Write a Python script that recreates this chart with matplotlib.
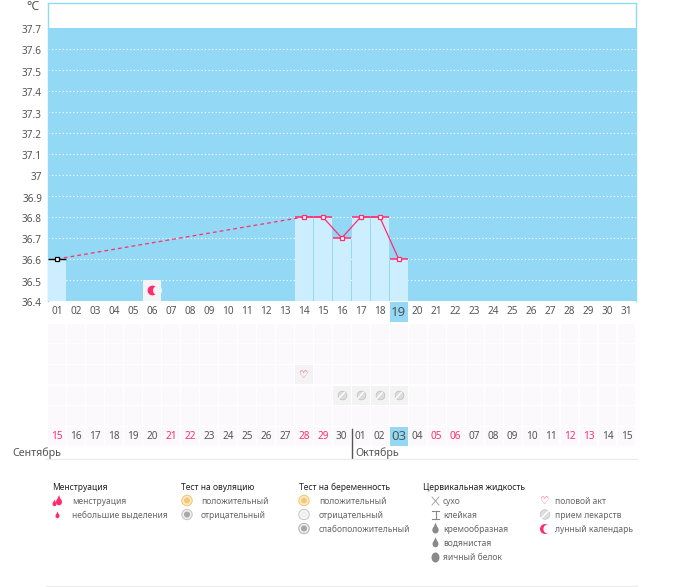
import matplotlib
matplotlib.use("Agg")
import matplotlib.pyplot as plt
from matplotlib.patches import Circle, Rectangle, Ellipse, Polygon
from matplotlib.transforms import ScaledTranslation

plt.rcParams['font.family'] = ['Noto Sans', 'DejaVu Sans']

W, H = 675, 587
days = list(range(1, 32))
day_labels = [f"{d:02d}" for d in days]
cycle_labels = ["15","16","17","18","19","20","21","22","23","24","25","26","27","28","29","30",
                "01","02","03","04","05","06","07","08","09","10","11","12","13","14","15"]
pink_days = [1, 7, 8, 14, 15, 21, 22, 28, 29]
temp_ticks = [37.7,37.6,37.5,37.4,37.3,37.2,37.1,37.0,36.9,36.8,36.7,36.6,36.5,36.4]
temp_labels = ["37.7","37.6","37.5","37.4","37.3","37.2","37.1","37","36.9","36.8","36.7","36.6","36.5","36.4"]
meas_days = [1, 14, 15, 16, 17, 18, 19]
meas_temps = [36.6, 36.8, 36.8, 36.7, 36.8, 36.8, 36.6]
today = 19
moon_days = [6]
heart_days = [14]
pill_days = [16, 17, 18, 19]

PINK = "#ff2d6e"
BLUE = "#93d9f5"
LIGHT = "#cdeeff"
GREY = "#555555"
CELL = "#fbf9fb"
HILITE = "#f3f3f4"

fig = plt.figure(figsize=(W/100, H/100), dpi=100, facecolor="white")

def axpx(x0, y0, x1, y1, **kw):
    return fig.add_axes([x0/W, 1-y1/H, (x1-x0)/W, (y1-y0)/H], **kw)

# page layer (pixel coordinates) for furniture and legend
pg = axpx(0, 0, W, H, zorder=3)
pg.set_xlim(0, W); pg.set_ylim(H, 0); pg.axis("off")
pg.patch.set_alpha(0)

# temperature chart
ax = axpx(47.5, 3, 636, 301, zorder=2)
ax.set_xlim(0.5, 31.5)
ax.set_ylim(36.4, 36.4 + 298/210)
ax.set_facecolor("white")
for s in ["left", "top", "right"]:
    ax.spines[s].set_color(BLUE); ax.spines[s].set_linewidth(1)
ax.spines["bottom"].set_visible(False)
ax.axhspan(36.4, 37.7, color=BLUE, lw=0, zorder=1)
ax.hlines(temp_ticks[1:], 0.5, 31.5, color="white", lw=0.8, linestyles=(0, (1, 2.2)), zorder=2)
ax.bar(meas_days, [t-36.4 for t in meas_temps], bottom=36.4, width=0.93, color=LIGHT, lw=0, zorder=3)
ax.bar(moon_days, [0.1]*len(moon_days), bottom=36.4, width=0.93, color="#f4f4f6", lw=0, zorder=3)
ax.hlines(meas_temps[1:], [d-0.47 for d in meas_days[1:]], [d+0.47 for d in meas_days[1:]], color=PINK, lw=1.1, zorder=4)
ax.hlines(meas_temps[:1], [d-0.47 for d in meas_days[:1]], [d+0.47 for d in meas_days[:1]], color="black", lw=1.0, zorder=4)
ax.plot(meas_days[:2], meas_temps[:2], color=PINK, lw=0.9, ls=(0, (3, 2.5)), zorder=5)
ax.plot(meas_days[1:], meas_temps[1:], color=PINK, lw=0.9, zorder=5)
ax.plot(meas_days[1:], meas_temps[1:], ls="", marker="s", ms=3.4, mfc="white", mec=PINK, mew=0.9, zorder=6)
ax.plot(meas_days[:1], meas_temps[:1], ls="", marker="s", ms=3.4, mfc="white", mec="black", mew=0.9, zorder=6)
for d in moon_days:
    ax.scatter([d], [36.45], s=50, color=PINK, lw=0, zorder=6)
    ax.scatter([d+0.27], [36.45], s=42, color="#f4f4f6", lw=0, zorder=7)
ax.set_yticks(temp_ticks, temp_labels)
ax.set_xticks(days, day_labels)
ax.tick_params(axis="both", length=0, labelcolor=GREY, labelsize=7.2)
ax.tick_params(axis="x", pad=3.5)
ax.tick_params(axis="y", pad=4)
shift = ScaledTranslation(0, -1.5/100, fig.dpi_scale_trans)
for lab in ax.get_yticklabels():
    lab.set_transform(lab.get_transform() + shift)
ax.get_xticklabels()[today-1].set_fontsize(9.5)
ax.add_patch(Rectangle((today-0.47, 36.4-21/210), 0.94, 20/210, color=BLUE, lw=0, clip_on=False, zorder=1))
pg.text(40, 6.5, "°C", ha="right", va="center", color=GREY, fontsize=9)

# symptom grid
gx = axpx(47.5, 323, 636, 447, zorder=2)
gx.set_xlim(0.5, 31.5); gx.set_ylim(6, 0); gx.axis("off")
for r in range(6):
    for d in days:
        gx.add_patch(Rectangle((d-0.47, r+0.03), 0.94, 0.94, color=CELL, lw=0))
for d in heart_days:
    gx.add_patch(Rectangle((d-0.47, 2.03), 0.94, 0.94, color=HILITE, lw=0))
    gx.text(d, 2.5, "\u2661", ha="center", va="center", color=PINK, fontsize=7.5,
            family=["DejaVu Sans"], fontweight="bold", zorder=4)
for d in pill_days:
    gx.add_patch(Rectangle((d-0.47, 3.03), 0.94, 0.94, color=HILITE, lw=0))
    gx.scatter([d], [3.5], s=40, color="#dcdcdc", edgecolors="#bdbdbd", lw=0.5, zorder=4)
    gx.plot([d-0.15, d+0.15], [3.65, 3.35], color="white", lw=1.0, zorder=5)
gx.add_patch(Rectangle((today-0.47, 5.03), 0.94, 0.94, color=BLUE, lw=0))
for d, lab in zip(days, cycle_labels):
    c = PINK if d in pink_days else GREY
    fs = 9.5 if d == today else 7.2
    gx.text(d, 5.5, lab, ha="center", va="center", color=c, fontsize=fs, zorder=5)

# month labels and rules
pg.text(12, 453, "Сентябрь", ha="left", va="center", color=GREY, fontsize=7.7)
pg.text(355, 453, "Октябрь", ha="left", va="center", color=GREY, fontsize=7.7)
pg.plot([352, 352], [429, 458], color="#555555", lw=1)
pg.plot([46, 637], [458.5, 458.5], color="#ececec", lw=1)
pg.plot([46, 637], [586, 586], color="#ececec", lw=1)

# legend
headers = [(52, "Менструация"), (181, "Тест на овуляцию"), (299, "Тест на беременность"), (423, "Цервикальная жидкость")]
for x, t in headers:
    pg.text(x, 487, t, ha="left", va="center", color="#222222", fontsize=6.1, fontweight="medium")
rows = [(72, 501, "менструация"), (72, 515, "небольшие выделения"),
        (201, 501, "положительный"), (201, 515, "отрицательный"),
        (319, 501, "положительный"), (319, 515, "отрицательный"), (319, 529, "слабоположительный"),
        (443, 501, "сухо"), (443, 515, "клейкая"), (443, 529, "кремообразная"), (443, 543, "водянистая"), (443, 557, "яичный белок"),
        (555, 501, "половой акт"), (555, 515, "прием лекарств"), (555, 529, "лунный календарь")]
for x, y, t in rows:
    pg.text(x, y, t, ha="left", va="center", color="#666666", fontsize=6.1)

def drop(x, y, r, c):
    pg.add_patch(Ellipse((x, y), 2*r, 2.2*r, color=c, lw=0))
    pg.add_patch(Polygon([(x-r*0.8, y-r*0.4), (x+r*0.8, y-r*0.4), (x, y-r*2.3)], color=c, lw=0))

drop(59, 502, 3, PINK); drop(54.5, 504, 2, PINK)
drop(57.5, 516, 2, PINK)
def target(x, y, outer, inner, edge):
    pg.add_patch(Circle((x, y), 5.2, fc=outer, ec=edge, lw=0.7))
    pg.add_patch(Circle((x, y), 3, fc=inner, lw=0))
target(187, 500.5, "#fdeccb", "#f8c674", "#f5c36c")
target(187, 514.5, "#eeeeee", "#a8a8a8", "#c4c4c4")
target(304, 500.5, "#fdeccb", "#f8c674", "#f5c36c")
target(304, 514.5, "#f7f7f7", "#efefef", "#c4c4c4")
target(304, 528.5, "#eeeeee", "#a8a8a8", "#b0b0b0")
pg.plot([432, 439], [497, 505], color="#999999", lw=0.6)
pg.plot([432, 439], [505, 497], color="#999999", lw=0.6)
pg.plot([432, 439], [511, 511], color="#888888", lw=0.8)
pg.plot([432, 439], [519, 519], color="#888888", lw=0.8)
pg.plot([435.5, 435.5], [511, 519], color="#888888", lw=0.8)
drop(435.5, 530, 3.2, "#8a8a8a")
drop(435.5, 544, 3, "#8a8a8a")
pg.add_patch(Ellipse((435.5, 557.5), 8, 10, color="#8a8a8a", lw=0))
pg.text(545, 501, "\u2661", ha="center", va="center", color=PINK, fontsize=7.5, family=["DejaVu Sans"], fontweight="bold")
pg.add_patch(Circle((545, 514.5), 4.8, fc="#dddddd", ec="#c4c4c4", lw=0.5))
pg.plot([541.5, 548.5], [518, 511], color="white", lw=1.1)
pg.add_patch(Circle((545, 529), 5, fc=PINK, lw=0))
pg.add_patch(Circle((548, 529), 4.6, fc="white", lw=0))

fig.savefig("out.png", dpi=100, facecolor="white")
